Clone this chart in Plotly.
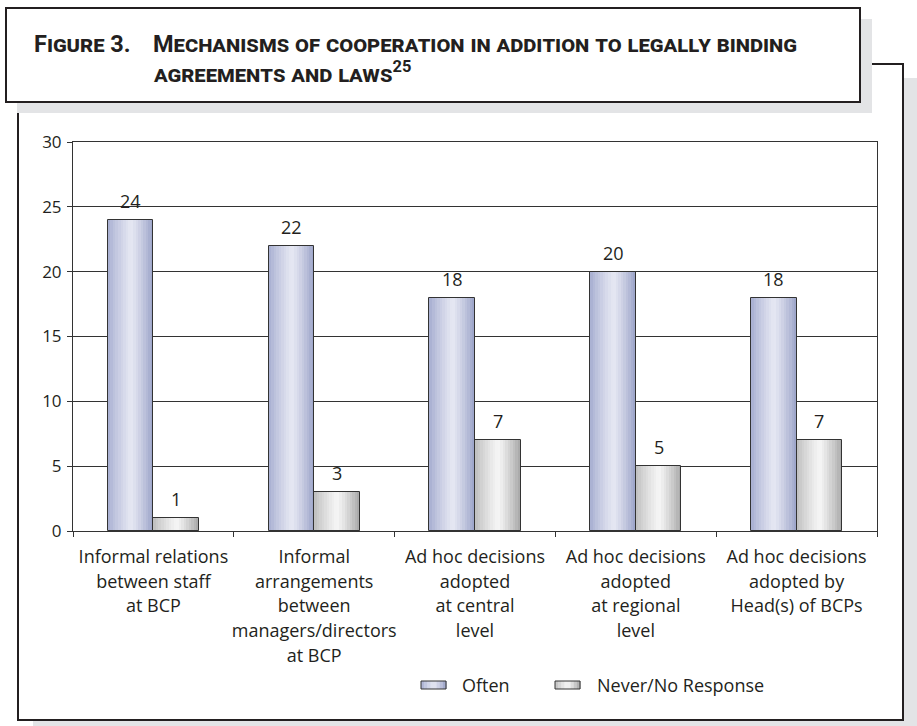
import plotly.graph_objects as go

# ---------------- data ----------------
category_lines = [
    ["Informal relations", "between staff", "at BCP"],
    ["Informal", "arrangements", "between", "managers/directors", "at BCP"],
    ["Ad hoc decisions", "adopted", "at central", "level"],
    ["Ad hoc decisions", "adopted", "at regional", "level"],
    ["Ad hoc decisions", "adopted by", "Head(s) of BCPs"],
]
often = [24, 22, 18, 20, 18]
never = [1, 3, 7, 5, 7]
series_names = ["Often", "Never/No Response"]
y_ticks = [0, 5, 10, 15, 20, 25, 30]
title_prefix = "Figure 3."
title_lines = ["Mechanisms of cooperation in addition to legally binding",
               "agreements and laws<sup>25</sup>"]

# ---------------- styling ----------------
FONT = "Open Sans, Noto Sans, sans-serif"
INK = "#231f20"
SHADOW = "#e3e4e6"
LBL = 18

def lab(lines):
    return "<br>".join(f"<span style='font-size:{LBL}px'>{l}</span>" for l in lines)

categories = [lab(c) for c in category_lines]

def mix(c1, c2, t):
    return "#%02x%02x%02x" % tuple(round(a + (b - a) * t) for a, b in zip(c1, c2))

def grad(edge_l, centre, edge_r, t):
    if t < 0.5:
        return mix(edge_l, centre, (t / 0.5) ** 0.8)
    return mix(centre, edge_r, ((t - 0.5) / 0.5) ** 1.2)

blue = ((0xa4, 0xac, 0xcf), (0xe6, 0xe8, 0xf3), (0x9a, 0xa2, 0xc8))
grey = ((0xbc, 0xbc, 0xbc), (0xf6, 0xf6, 0xf6), (0xa6, 0xa6, 0xa6))

BW = 0.283
NS = 18
fig = go.Figure()
for vals, pal, base in ((often, blue, -BW), (never, grey, 0.0)):
    sw = BW / NS
    for i in range(NS):
        t = (i + 0.5) / NS
        w = sw * 1.6 if i < NS - 1 else sw
        fig.add_trace(go.Bar(
            x=categories, y=vals, width=w, offset=base + i * sw,
            marker=dict(color=grad(*pal, t), line=dict(width=0)),
            showlegend=False, hoverinfo="skip"))

for vals, name, base in ((often, series_names[0], -BW), (never, series_names[1], 0.0)):
    fig.add_trace(go.Bar(
        x=categories, y=vals, width=BW, offset=base, name=name,
        marker=dict(color="rgba(0,0,0,0)", line=dict(color="#333333", width=1)),
        showlegend=False))

# ---------------- frame, pixel helpers ----------------
L, R, T, B = 73, 877, 142, 531
PXU = (R - L) / len(categories)  # pixels per category
def X(p):
    return (p - L) / (R - L)
def Y(p):
    return (B - p) / (B - T)

shapes = []
def rect(x0, y0, x1, y1, fill=None, line=None, lw=0):
    shapes.append(dict(type="rect", xref="paper", yref="paper",
                       x0=X(x0), x1=X(x1), y0=Y(y0), y1=Y(y1),
                       fillcolor=fill if fill else "rgba(0,0,0,0)",
                       line=dict(color=line if line else "rgba(0,0,0,0)", width=lw),
                       layer="below"))

rect(33, 78, 920, 729, fill=SHADOW)
rect(18, 64, 903, 720, fill="white", line=INK, lw=2)
rect(17, 19, 872, 113, fill=SHADOW)
rect(6, 8, 860, 102, fill="white", line=INK, lw=2)

def swatch(x0, pal):
    n = 8
    w = 25 / n
    for i in range(n):
        t = (i + 0.5) / n
        rect(x0 + i * w, 681, x0 + (i + 1) * w + 0.6, 689, fill=grad(*pal, t))
    rect(x0, 681, x0 + 25, 689, line="#333333", lw=1)

swatch(421, blue)
swatch(555, grey)

annotations = []
for name, xp in zip(series_names, (460, 595)):
    annotations.append(dict(text=name, x=X(xp), y=Y(685), xanchor="left", yanchor="middle",
                            xref="paper", yref="paper", showarrow=False,
                            font=dict(family=FONT, size=18, color=INK)))

# value labels, anchored on the data
for vals, sign in ((often, -1), (never, 1)):
    for c, v in zip(categories, vals):
        annotations.append(dict(text=str(v), x=c, y=v, xref="x", yref="y",
                                xshift=sign * BW * PXU / 2, yshift=5,
                                xanchor="center", yanchor="bottom", showarrow=False,
                                font=dict(family=FONT, size=18, color=INK)))

TFONT = dict(family="Liberation Sans Narrow, Roboto, sans-serif", size=23.5, color=INK,
             variant="small-caps", weight="bold")
annotations.append(dict(text=title_prefix, x=X(32), y=Y(44), xanchor="left", yanchor="middle",
                        xref="paper", yref="paper", showarrow=False, font=TFONT))
for line, yp in zip(title_lines, (44, 72)):
    annotations.append(dict(text=line, x=X(151), y=Y(yp), xanchor="left", yanchor="middle",
                            xref="paper", yref="paper", showarrow=False, font=TFONT))

fig.update_layout(
    width=917, height=726,
    margin=dict(l=L, r=917 - R, t=T, b=726 - B, pad=0, autoexpand=False),
    paper_bgcolor="white", plot_bgcolor="rgba(0,0,0,0)",
    barmode="overlay", bargap=0,
    showlegend=False,
    font=dict(family=FONT, color=INK),
    shapes=shapes, annotations=annotations,
    xaxis=dict(type="category", tickson="boundaries", ticks="outside", ticklen=5,
               tickcolor="#333333", showline=True, linecolor="#333333", linewidth=1,
               mirror=True, showgrid=False, ticklabelstandoff=8, tickangle=0,
               automargin=False,
               tickfont=dict(family=FONT, size=19, color=INK)),
    yaxis=dict(range=[0, 30], tickvals=y_ticks, ticks="outside", ticklen=5,
               tickcolor="#333333", showline=True, linecolor="#333333", linewidth=1,
               mirror=True, showgrid=True, gridcolor="#333333", gridwidth=1,
               zeroline=False, ticklabelstandoff=2, automargin=False,
               tickfont=dict(family=FONT, size=17, color=INK)),
)

fig.write_html("out.html")
